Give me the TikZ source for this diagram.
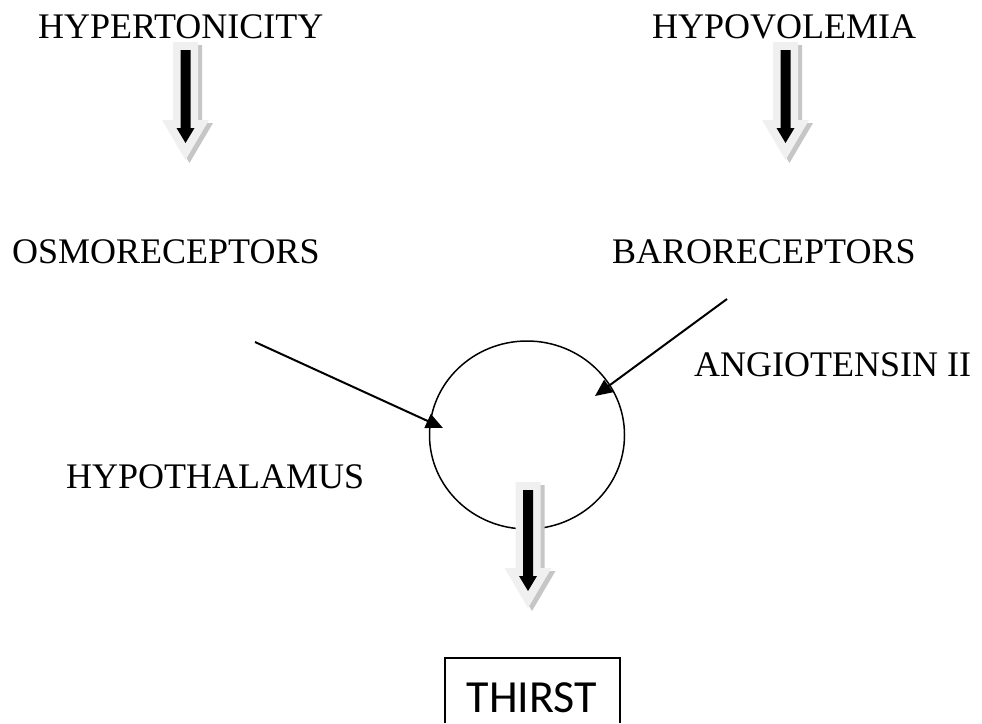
\documentclass[tikz,border=0pt]{standalone}
\usepackage{fontspec}
\setmainfont{Liberation Serif}
\newfontfamily\thirstfont{Carlito}
\usetikzlibrary{arrows.meta, shapes.geometric, calc}

\definecolor{ArrowFill}{RGB}{240, 240, 240}
\definecolor{ArrowShadow}{RGB}{198, 198, 198}

% block arrow: #1 top centre, #2 length
\newcommand{\fatarrow}[2]{%
  \begin{scope}[shift={(#1)}]
    \fill[ArrowShadow, shift={(4,3)}] (-12.5,0) -- (12.5,0) -- (12.5,#2-40) -- (23.5,#2-40) -- (0,#2) -- (-23.5,#2-40) -- (-12.5,#2-40) -- cycle;
    \fill[ArrowFill] (-12.5,0) -- (12.5,0) -- (12.5,#2-40) -- (23.5,#2-40) -- (0,#2) -- (-23.5,#2-40) -- (-12.5,#2-40) -- cycle;
    \fill[black] (-5,8) -- (5,8) -- (5,#2-32) -- (9,#2-32) -- (0,#2-17) -- (-9,#2-32) -- (-5,#2-32) -- cycle;
  \end{scope}}

\begin{document}
\begin{tikzpicture}[
    x=1pt, y=-1pt,
    term/.style={inner sep=0, anchor=base west, font=\fontsize{36}{40}\selectfont},
    signal/.style={line width=2pt, -{Triangle[length=17pt, width=15pt]}},
  ]
  \useasboundingbox (0,0) rectangle (982,723);

  % stimuli and receptors
  \node[term] (hypert) at (38,38) {HYPERTONICITY};
  \node[term] (hypov) at (652,38) {HYPOVOLEMIA};
  \node[term] (osmo) at (12,263) {OSMORECEPTORS};
  \node[term] (baro) at (612,263) {BARORECEPTORS};
  \node[term] (angio) at (694,376) {ANGIOTENSIN II};
  \node[term] (hypothal) at (66,488) {HYPOTHALAMUS};

  \fatarrow{185.5,42}{118}
  \fatarrow{785.5,42}{118}

  % hypothalamus
  \node[ellipse, draw, line width=1.5pt, minimum width=195pt, minimum height=188pt] (hyp) at (527,435) {};

  \coordinate (osmoout) at (255,342);
  \coordinate (baroout) at (727,299);
  \draw[signal] (osmoout) -- ($(hyp.center)+(-84,-7)$);
  \draw[signal] (baroout) -- ($(hyp.center)+(68,-39)$);

  \fatarrow{528,482}{126}

  % response (box runs off the page)
  \node[inner sep=0, anchor=base, font=\thirstfont\fontsize{46}{50}\selectfont] (thirst) at (532,712) {THIRST};
  \draw[line width=1.3pt] ($(thirst.base)+(-87,11)$) |- ($(thirst.base)+(88,-54)$) -- ($(thirst.base)+(88,11)$);
\end{tikzpicture}
\end{document}
